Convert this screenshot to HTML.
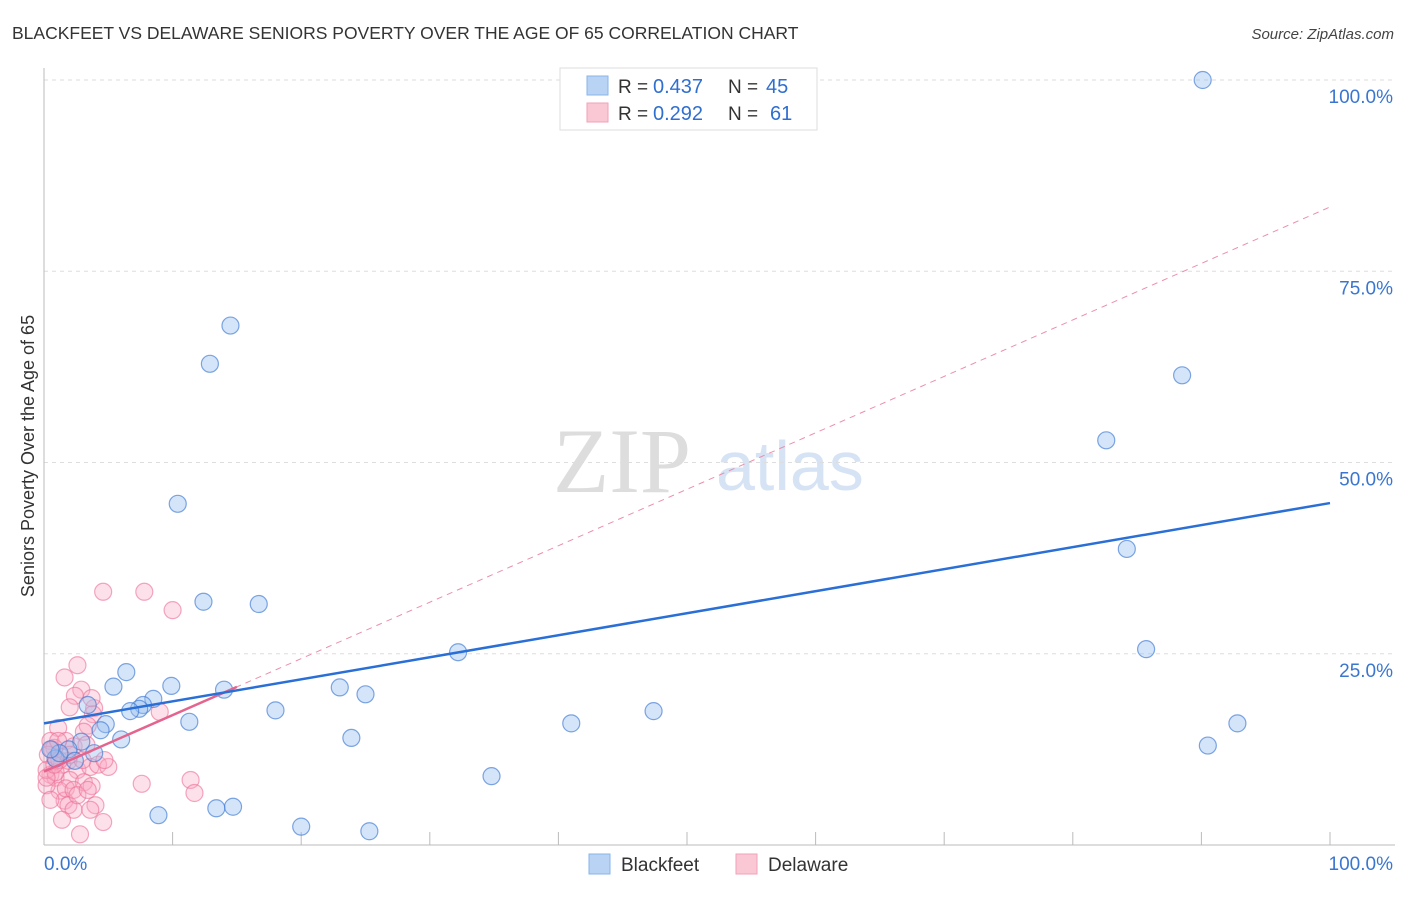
<!DOCTYPE html>
<html><head><meta charset="utf-8"><style>
body{margin:0;background:#fff;font-family:"Liberation Sans",sans-serif;}
</style></head><body>
<svg id="chart" width="1406" height="892" xmlns="http://www.w3.org/2000/svg" font-family="Liberation Sans, sans-serif">
<text x="12" y="39" font-size="17.5" fill="#333">BLACKFEET VS DELAWARE SENIORS POVERTY OVER THE AGE OF 65 CORRELATION CHART</text>
<text x="1394" y="39" font-size="15" fill="#444" text-anchor="end" font-style="italic">Source: ZipAtlas.com</text>
<text transform="translate(34,456) rotate(-90)" font-size="18" fill="#333" text-anchor="middle">Seniors Poverty Over the Age of 65</text>
<text x="553" y="492" font-size="92" fill="#ddd" font-family="Liberation Serif, serif">ZIP</text>
<text x="716" y="490" font-size="70" fill="#d5e3f5">atlas</text>
<g id="grid"></g><g id="pts"></g><g id="lines"></g>
<g>
<rect x="560" y="68" width="257" height="62" fill="#fff" stroke="#ddd"/>
<rect x="587" y="76" width="21" height="19" fill="#b8d3f4" stroke="#8ab4ea"/>
<rect x="587" y="103" width="21" height="19" fill="#fac8d5" stroke="#f2a2b8"/>
<text x="618" y="93" font-size="19" fill="#333">R =</text>
<text x="653" y="93" font-size="20" fill="#2f6fd0">0.437</text>
<text x="728" y="93" font-size="19" fill="#333">N =</text>
<text x="766" y="93" font-size="20" fill="#2f6fd0">45</text>
<text x="618" y="120" font-size="19" fill="#333">R =</text>
<text x="653" y="120" font-size="20" fill="#2f6fd0">0.292</text>
<text x="728" y="120" font-size="19" fill="#333">N =</text>
<text x="770" y="120" font-size="20" fill="#2f6fd0">61</text>
</g>
<g>
<rect x="589" y="854" width="21" height="20" fill="#b8d3f4" stroke="#8ab4ea"/>
<text x="621" y="871" font-size="19" fill="#333">Blackfeet</text>
<rect x="736" y="854" width="21" height="20" fill="#fac8d5" stroke="#f2a2b8"/>
<text x="768" y="871" font-size="19" fill="#333">Delaware</text>
</g>
</svg>
<script>
const yTicks=[0,25,50,75,100];
const yTickLabels=["","25.0%","50.0%","75.0%","100.0%"];
const blackfeetX=[90.1,14.5,12.9,10.4,88.5,82.6,84.2,85.7,90.5,92.8,12.4,16.7,32.2,6.4,5.4,9.9,14.0,8.5,7.7,7.4,6.7,18.0,23.0,25.0,11.3,4.8,4.4,6.0,2.9,1.9,3.9,23.9,41.0,47.4,34.8,14.7,13.4,8.9,20.0,25.3,0.9,1.2,0.5,3.4,2.4];
const blackfeetY=[100,67.9,62.9,44.6,61.4,52.9,38.7,25.6,13.0,15.9,31.8,31.5,25.2,22.6,20.7,20.8,20.3,19.1,18.3,17.8,17.5,17.6,20.6,19.7,16.1,15.8,15.0,13.8,13.5,12.5,12.0,14.0,15.9,17.5,9.0,5.0,4.8,3.9,2.4,1.8,11.3,12.0,12.5,18.3,11.0];
const delawareX=[4.6,7.8,10.0,2.6,1.6,2.9,2.4,2.0,3.9,3.8,3.4,3.1,1.1,0.5,1.7,0.8,2.3,0.3,1.0,1.4,1.9,2.6,3.6,4.2,5.0,0.5,0.9,2.0,3.1,3.7,1.2,0.2,1.6,1.9,4.0,2.3,3.6,4.6,1.4,2.8,7.6,11.4,11.7,9.0,0.6,0.2,0.9,0.2,1.7,2.3,4.7,3.0,1.2,2.0,1.1,3.3,3.7,0.5,2.6,3.4,0.8];
const delawareY=[33.1,33.1,30.7,23.5,21.9,20.3,19.5,18.0,17.9,17.1,15.6,14.8,15.3,13.6,13.6,12.7,12.9,11.8,11.1,10.5,11.0,9.8,10.2,10.5,10.2,9.2,8.8,8.5,8.2,7.7,7.1,7.8,5.8,5.2,5.2,4.6,4.6,3.0,3.3,1.4,8.0,8.5,6.8,17.4,12.5,9.8,9.5,8.8,7.4,7.2,11.1,11.1,11.1,11.8,13.6,13.1,19.2,5.9,6.5,7.2,10.5];
const blueFit=[15.9,44.7];
const pinkFit=[9.6,83.4];
const NS='http://www.w3.org/2000/svg';
const X0=44,X1=1330,Y0=845,Y1=80;
const sx=v=>X0+(X1-X0)*v/100, sy=v=>Y0-(Y0-Y1)*v/100;
function mk(tag,attrs,parent){const e=document.createElementNS(NS,tag);for(const k in attrs)e.setAttribute(k,attrs[k]);document.getElementById(parent).appendChild(e);return e;}
yTicks.forEach((t,i)=>{
  if(t>0){const g=mk('line',{x1:X0,x2:1395,y1:sy(t),y2:sy(t),stroke:'#ddd','stroke-dasharray':'4,4'},'grid');
  
  
  const l=mk('text',{x:1393,y:sy(t)+23,'font-size':19,fill:'#3a76d0','text-anchor':'end'},'grid');l.textContent=yTickLabels[i];
  
  }
});
const ax=mk('line',{x1:X0,x2:X0,y1:68,y2:Y0,stroke:'#bbb'},'grid');


const bx=mk('line',{x1:X0,x2:1395,y1:Y0,y2:Y0,stroke:'#bbb'},'grid');


for(let i=1;i<=10;i++){const t=mk('line',{x1:sx(i*10),x2:sx(i*10),y1:832,y2:Y0,stroke:'#bbb'},'grid');

}
const xl=mk('text',{x:44,y:870,'font-size':19,fill:'#3a76d0'},'grid');xl.textContent='0.0%';


const xr=mk('text',{x:1393,y:870,'font-size':19,fill:'#3a76d0','text-anchor':'end'},'grid');xr.textContent='100.0%';


delawareX.forEach((v,i)=>{const c=mk('circle',{cx:sx(v),cy:sy(delawareY[i]),r:8.5,fill:'rgba(248,170,195,0.35)',stroke:'rgba(236,110,150,0.6)','stroke-width':1.2},'pts');

});
blackfeetX.forEach((v,i)=>{const c=mk('circle',{cx:sx(v),cy:sy(blackfeetY[i]),r:8.5,fill:'rgba(150,190,240,0.4)',stroke:'rgba(60,120,210,0.65)','stroke-width':1.2},'pts');

});
const pd=mk('line',{x1:sx(0),y1:sy(pinkFit[0]),x2:sx(100),y2:sy(pinkFit[1]),stroke:'#ec8fab','stroke-width':1,'stroke-dasharray':'6,5'},'lines');


const ps=mk('line',{x1:sx(0),y1:sy(pinkFit[0]),x2:sx(15),y2:sy(pinkFit[0]+(pinkFit[1]-pinkFit[0])*0.15),stroke:'#e4648e','stroke-width':2.5},'lines');


const bl=mk('line',{x1:sx(0),y1:sy(blueFit[0]),x2:sx(100),y2:sy(blueFit[1]),stroke:'#2a6fd6','stroke-width':2.5},'lines');


</script>
</body></html>
